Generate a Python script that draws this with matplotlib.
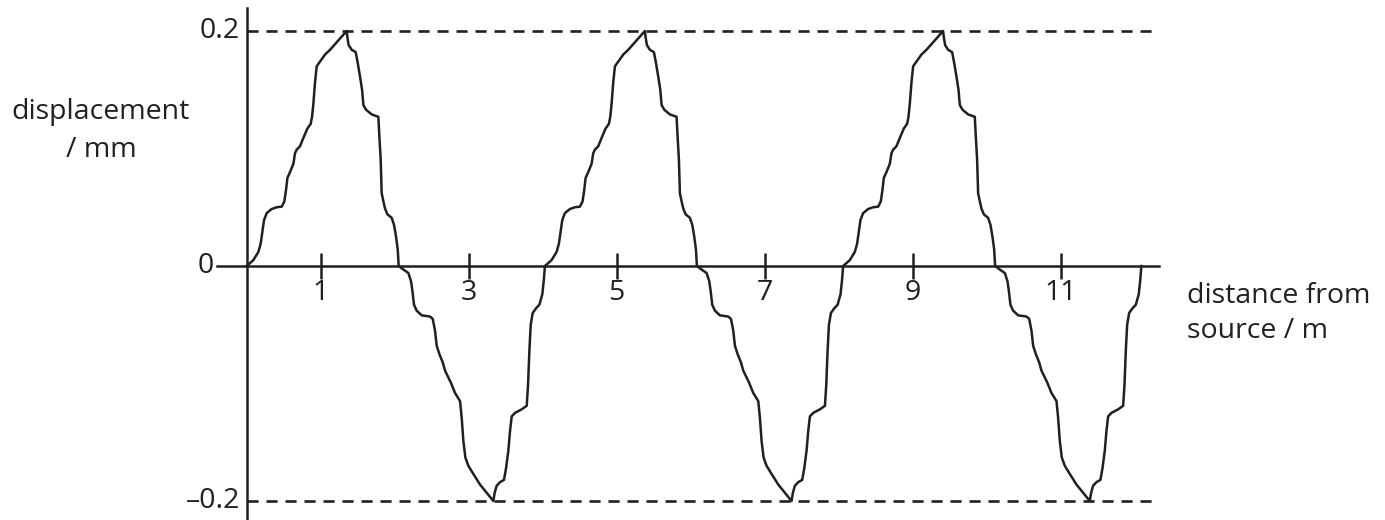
import numpy as np
import matplotlib
matplotlib.use("Agg")
import matplotlib.pyplot as plt

plt.rcParams["font.family"] = ["Open Sans", "DejaVu Sans"]

# one cycle of the wave (distance / m, displacement / mm)
cycle_x = [0.000, 0.090, 0.158, 0.189, 0.212, 0.234, 0.270, 0.338, 0.405, 0.473,
           0.509, 0.532, 0.550, 0.586, 0.631, 0.653, 0.676, 0.721, 0.766, 0.820,
           0.865, 0.883, 0.901, 0.923, 0.946, 0.991, 1.059, 1.126, 1.239, 1.351,
           1.360, 1.378, 1.419, 1.473, 1.500, 1.532, 1.559, 1.577, 1.613, 1.689,
           1.779, 1.793, 1.811, 1.824, 1.847, 1.869, 1.901, 1.959, 1.991, 2.018,
           2.041, 2.054,
           2.117, 2.185, 2.221, 2.239, 2.261, 2.297, 2.365, 2.477, 2.514, 2.545,
           2.568, 2.604, 2.649, 2.680, 2.703, 2.757, 2.815, 2.883, 2.905, 2.928,
           2.955, 2.995, 3.063, 3.153, 3.243, 3.333, 3.351, 3.378, 3.423, 3.477,
           3.505, 3.536, 3.559, 3.581, 3.626, 3.716, 3.784, 3.802, 3.820, 3.838,
           3.865, 3.910, 3.955, 3.995, 4.015, 4.030]
cycle_y = [0.000, 0.005, 0.012, 0.019, 0.029, 0.039, 0.045, 0.0485, 0.050, 0.0505,
           0.055, 0.065, 0.075, 0.080, 0.087, 0.096, 0.099, 0.102, 0.109, 0.117,
           0.121, 0.127, 0.138, 0.156, 0.170, 0.174, 0.180, 0.184, 0.192, 0.200,
           0.195, 0.188, 0.184, 0.182, 0.173, 0.161, 0.150, 0.137, 0.133, 0.129,
           0.127, 0.110, 0.090, 0.062, 0.055, 0.049, 0.044, 0.041, 0.035, 0.025,
           0.014, 0.000,
           -0.003, -0.006, -0.013, -0.021, -0.033, -0.038, -0.042, -0.043, -0.045, -0.055,
           -0.068, -0.075, -0.082, -0.089, -0.092, -0.099, -0.108, -0.115, -0.129, -0.149,
           -0.163, -0.170, -0.177, -0.186, -0.193, -0.200, -0.193, -0.187, -0.184, -0.182,
           -0.172, -0.157, -0.140, -0.128, -0.125, -0.122, -0.119, -0.101, -0.072, -0.050,
           -0.040, -0.036, -0.033, -0.024, -0.012, 0.000]
cycle_starts = [0.0, 4.03, 8.06]   # start of each drawn cycle / m

x_ticks = [1, 3, 5, 7, 9, 11]
y_ticks = [-0.2, 0.2]
y_tick_labels = ["\u20130.2", "0.2"]
zero_label = "0"
amplitude = 0.2

xs = np.concatenate([np.array(cycle_x) + s for s in cycle_starts])
ys = np.concatenate([np.array(cycle_y) for _ in cycle_starts])

W, H = 1385, 520
fig = plt.figure(figsize=(W / 100, H / 100), dpi=100)
ax = fig.add_axes([0, 0, 1, 1])

# pixel mapping: x=0 at 246.7 px, 74 px per m; y=0 at 266 px, 1175 px per mm
px0, kx = 246.7, 74.0
py0, ky = 266.0, 1175.0
ax.set_xlim(-px0 / kx, (W - px0) / kx)
ax.set_ylim(-(H - py0) / ky, py0 / ky)

ink = "#231f20"
lw = 1.8
fs = 20.5
ax.plot(xs, ys, color=ink, lw=lw, solid_joinstyle="round", zorder=3)

ax.hlines([amplitude, -amplitude], 0, (1155 - px0) / kx, colors=ink,
          linestyles=(0, (4.2, 3.0)), lw=1.9)

for side in ["top", "right"]:
    ax.spines[side].set_visible(False)
ax.spines["left"].set_position(("data", 0))
ax.spines["bottom"].set_position(("data", 0))
ax.spines["left"].set_bounds(-(H - py0) / ky, (py0 - 8) / ky)
ax.spines["bottom"].set_bounds((217 - px0) / kx, (1159 - px0) / kx)
for side in ["left", "bottom"]:
    ax.spines[side].set_linewidth(lw)
    ax.spines[side].set_color(ink)

ax.set_xticks(x_ticks)
ax.set_xticklabels([str(t) for t in x_ticks])
ax.tick_params(axis="x", direction="inout", length=19, width=lw, color=ink,
               pad=0, labelsize=fs, labelcolor=ink)
ax.set_yticks(y_ticks)
ax.set_yticklabels(y_tick_labels)
ax.tick_params(axis="y", length=0, pad=5, labelsize=fs, labelcolor=ink)
for lab in ax.get_yticklabels():
    lab.set_verticalalignment("center")

# "0" sits left of where the x axis pokes past the y axis
ax.annotate(zero_label, (0, 0), xytext=(-33, 0), textcoords="offset pixels",
            ha="right", va="center", fontsize=fs, color=ink)

ax.text(101, H - 112, "displacement", transform=None, ha="center", va="center",
        fontsize=fs, color=ink)
ax.text(101, H - 150, "/ mm", transform=None, ha="center", va="center",
        fontsize=fs, color=ink)
ax.text(1187, H - 296, "distance from", transform=None, ha="left", va="center",
        fontsize=fs, color=ink)
ax.text(1187, H - 331, "source / m", transform=None, ha="left", va="center",
        fontsize=fs, color=ink)

fig.savefig("out.png", dpi=100)
